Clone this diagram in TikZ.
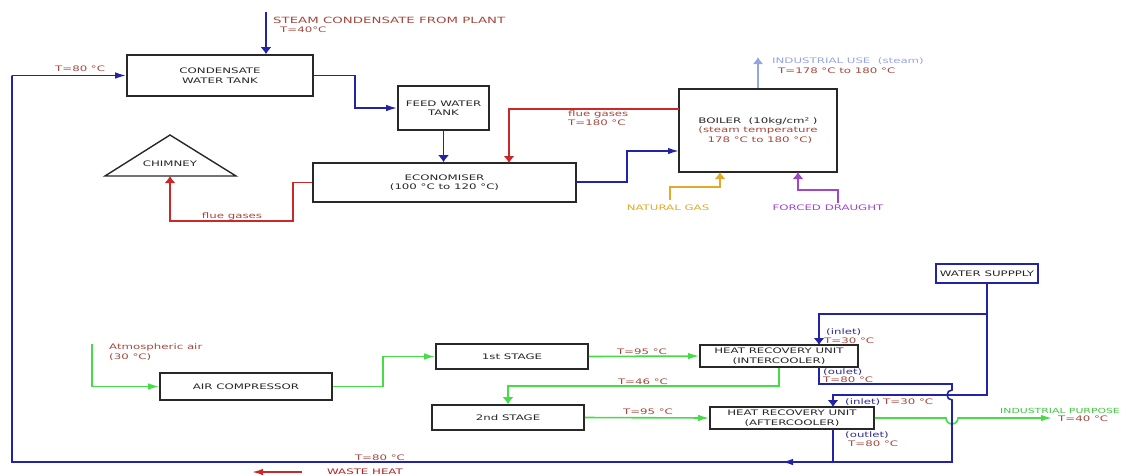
\documentclass[tikz,border=0pt]{standalone}
\usepackage{fontspec}
\usetikzlibrary{arrows.meta}
\newfontfamily\dvs[FakeStretch=1.55]{DejaVu Sans}
\newcommand\lbl{\dvs\fontsize{7.6}{9.5}\selectfont}
\definecolor{pipe}{RGB}{35,35,165}
\definecolor{flue}{RGB}{205,40,40}
\definecolor{air}{RGB}{70,220,70}
\definecolor{gas}{RGB}{225,170,40}
\definecolor{draught}{RGB}{160,70,200}
\definecolor{steam}{RGB}{150,165,225}
\definecolor{tlab}{RGB}{165,70,60}
\definecolor{inl}{RGB}{45,45,150}
\definecolor{edge}{RGB}{40,40,40}
\begin{document}
\begin{tikzpicture}[x=1pt,y=-1pt,
  box/.style={draw=edge,line width=1.6pt,fill=white,inner sep=0pt,align=center,font=\lbl,text=black!85},
  txt/.style={inner sep=0pt,font=\lbl,align=left},
  tiph/.style={-{Latex[length=11pt,width=6.5pt]}},
  tipv/.style={-{Latex[length=7pt,width=11pt]}},
  water/.style={draw=pipe,line width=1.6pt},
  fluel/.style={draw=flue,line width=1.6pt},
  airl/.style={draw=air,line width=1.6pt},
  gasl/.style={draw=gas,line width=1.6pt},
  draughtl/.style={draw=draught,line width=1.6pt},
  steaml/.style={draw=steam,line width=1.6pt}]
\useasboundingbox (0,0) rectangle (1126,475);

% boxes
\node[box,minimum width=186pt,minimum height=41pt] (cond) at (220,75.5) {CONDENSATE\\WATER TANK};
\node[box,minimum width=91pt,minimum height=44pt] (feed) at (443.5,108) {FEED WATER\\TANK};
\node[box,minimum width=263pt,minimum height=39pt] (econ) at (444.5,182.5) {ECONOMISER\\(100 °C to 120 °C)};
\node[box,minimum width=158pt,minimum height=83pt] (boiler) at (758,130.5)
  {BOILER\ \ (10kg/cm² )\\\textcolor{tlab}{(steam temperature}\\\textcolor{tlab}{\ 178 °C to 180 °C)}};
\node[box,minimum width=172pt,minimum height=27pt] (aircomp) at (246,386.5) {AIR COMPRESSOR};
\node[box,minimum width=152pt,minimum height=25pt] (st1) at (512,356.5) {1st STAGE};
\node[box,minimum width=152pt,minimum height=25pt] (st2) at (508,417.5) {2nd STAGE};
\node[box,minimum width=158pt,minimum height=22pt] (inter) at (779,356) {HEAT RECOVERY UNIT\\(INTERCOOLER)};
\node[box,minimum width=164pt,minimum height=22pt] (after) at (792,418) {HEAT RECOVERY UNIT\\(AFTERCOOLER)};
\node[box,draw=pipe,minimum width=102pt,minimum height=19pt] (water) at (987,273.5) {WATER SUPPPLY};

% chimney
\draw[draw=edge,line width=1.4pt] (105,176) -- (170,135) -- (236,176) -- cycle;
\node[txt,text=black!85] (chim) at (170,164) {CHIMNEY};
\coordinate (chimbase) at (170,176);

% labels
\node[txt,text=tlab,anchor=west,font=\dvs\fontsize{8.6}{10}\selectfont] (steamlbl) at (273,20) {STEAM CONDENSATE FROM PLANT};
\node[txt,text=tlab,anchor=west] (t40) at (280,30) {T=40°C};
\node[txt,text=tlab,anchor=west] (t80a) at (55,69) {T=80 °C};
\node[txt,text=tlab,anchor=west] (fluelbl) at (568,118) {flue gases\\T=180 °C};
\node[txt,text=steam,anchor=west] (indlbl) at (772,61) {INDUSTRIAL USE\ \ (steam)};
\node[txt,text=tlab,anchor=west] (t178) at (778,71) {T=178 °C to 180 °C};
\node[txt,text=gas] (nglbl) at (668,208) {NATURAL GAS};
\node[txt,text=draught] (fdlbl) at (828,208) {FORCED DRAUGHT};
\node[txt,text=tlab] (flue2) at (232,216) {flue gases};
\node[txt,text=tlab,anchor=west] (atmlbl) at (109,352) {Atmospheric air\\(30 °C)};
\node[txt,text=tlab] (t95a) at (642,352) {T=95 °C};
\node[txt,text=tlab] (t46) at (643,382) {T=46 °C};
\node[txt,text=tlab] (t95b) at (648,412) {T=95 °C};
\node[txt,text=inl,anchor=west] (in1) at (826,332) {(inlet)};
\node[txt,text=tlab,anchor=west] (in1t) at (824,341) {T=30 °C};
\node[txt,text=inl,anchor=west] (out1) at (823,372) {(oulet)};
\node[txt,text=tlab,anchor=west] (out1t) at (823,380) {T=80 °C};
\node[txt,text=inl,anchor=west] (in2) at (845,402) {(inlet)};
\node[txt,text=tlab,anchor=west] (in2t) at (883,402) {T=30 °C};
\node[txt,text=inl,anchor=west] (out2) at (845,435) {(outlet)};
\node[txt,text=tlab,anchor=west] (out2t) at (848,444) {T=80 °C};
\node[txt,text=air!90!black,anchor=west,font=\dvs\fontsize{7}{9}\selectfont] (indp) at (1000,411) {INDUSTRIAL PURPOSE};
\node[txt,text=tlab,anchor=west] (t40b) at (1058,419) {T=40 °C};
\node[txt,text=tlab] (t80b) at (380,458) {T=80 °C};
\node[txt,text=flue!85!black] (waste) at (365,472) {WASTE HEAT};

% coordinates on edges
\coordinate (sc) at (266,12);
\coordinate (flueout) at (679,109);
\coordinate (fluein) at (509,163);
\coordinate (econout) at (576,182);
\coordinate (boilin) at (679,151);
\coordinate (gasin) at (720,172);
\coordinate (gasst) at (670,200);
\coordinate (fdin) at (798,172);
\coordinate (fdst) at (838,203);
\coordinate (atmst) at (92,344);
\coordinate (interin) at (819,345);
\coordinate (interout) at (819,367);
\coordinate (afterin) at (833,407);
\coordinate (afterout) at (833,429);
\coordinate (indend) at (1052,418);
\coordinate (wh1) at (302,472);
\coordinate (wh2) at (252,472);

% top section
\draw[water,tipv] (sc) -- (sc |- cond.north);
\draw[water,tiph] (cond.east) -- (355,75.5) |- (feed.west);
\draw[water,tipv] (feed.south) -- (feed.south |- econ.north);
\draw[fluel,tipv] (flueout) -| (fluein);
\draw[water,tiph] (econout) -- (627,182) |- (boilin);
\draw[fluel,tipv] (econ.west) -- (293,182.5) |- (170,221) -- (chimbase);
\draw[steaml,tipv] (boiler.north) -- ++(0,-31);
\draw[gasl,tipv] (gasst) |- (720,187) -- (gasin);
\draw[draughtl,tipv] (fdst) |- (798,190) -- (fdin);

% air line
\draw[airl,tiph] (atmst) |- (aircomp.west);
\draw[airl,tiph] (aircomp.east) -- (383,386.5) |- (st1.west);
\draw[airl,tiph] (st1.east) -- (inter.west);
\draw[airl,tipv] (inter.south) -- (779,386) -| (st2.north);
\draw[airl,tiph] (st2.east) -- (after.west);
\draw[airl,tiph] (after.east) -- (946,418) arc[start angle=180,end angle=360,radius=6pt] -- (indend);

% water loop
\draw[water,tipv] (water.south) -- (987,314) -| (interin);
\draw[water,tipv] (987,314) -- (987,395) -- (833,395) -- (afterin);
\draw[water] (interout) -- (819,384) -- (952,384) -- (952,390)
   arc[start angle=90,end angle=270,radius=5pt] -- (952,462) -- (12,462) -- (12,75.5);
\draw[water,tiph] (12,75.5) -- (cond.west);
\draw[water] (afterout) -- (833,462);
\draw[water,tiph] (805,462) -- (782,462);

% waste heat
\draw[fluel,tiph] (wh1) -- (wh2);
\end{tikzpicture}
\end{document}
